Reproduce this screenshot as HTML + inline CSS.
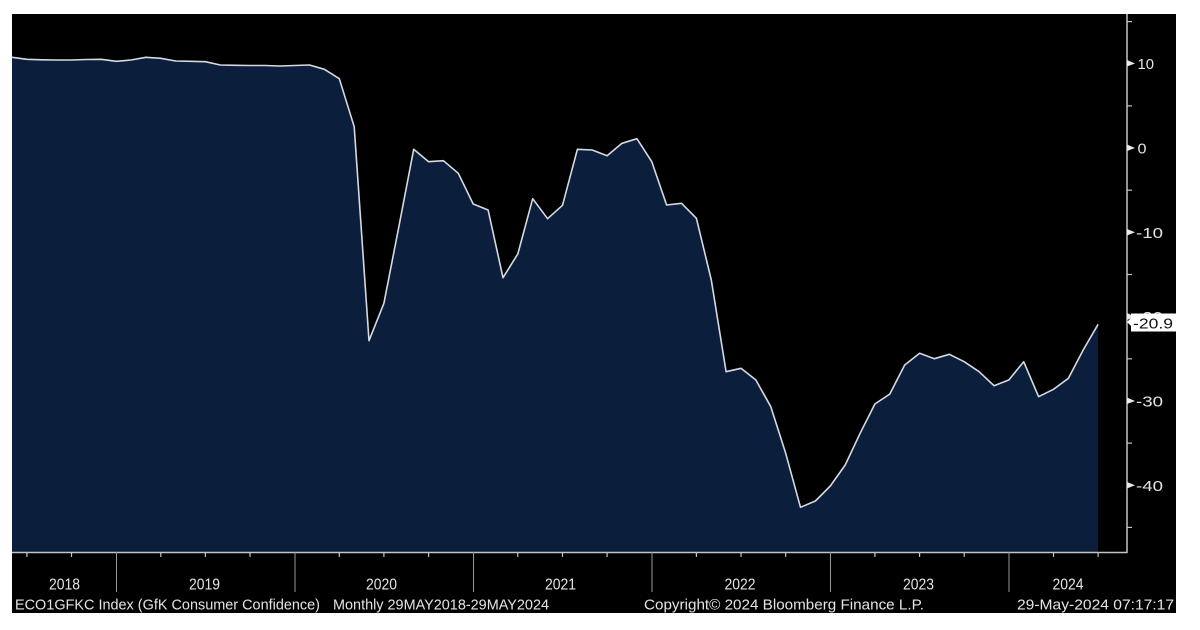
<!DOCTYPE html>
<html><head><meta charset="utf-8">
<style>
html,body{margin:0;padding:0;background:#fff;}
svg{display:block;}
text{font-family:"Liberation Sans","DejaVu Sans",sans-serif;fill:#e4e4e4;}
</style></head>
<body>
<svg width="1200" height="630" viewBox="0 0 1200 630" xmlns="http://www.w3.org/2000/svg">
<rect x="0" y="0" width="1200" height="630" fill="#ffffff"/>
<rect x="12" y="14" width="1164" height="599" fill="#000000"/>
<!-- area fill -->
<polygon fill="#0b1e3b" points="12,57.3 26.9,59.3 41.8,59.8 56.6,60 71.5,60 86.4,59.5 101.3,59.3 116.1,61.3 131,60 145.9,57.3 160.8,58.3 175.6,61 190.5,61.3 205.4,61.7 220.3,65 235.2,65.3 250,65.5 264.9,65.5 279.8,66 294.7,65.5 309.5,65 324.4,69.3 339.3,78.7 354.2,126.7 369,340.7 383.9,303.3 398.8,227 413.7,149.3 428.6,161.7 443.4,160.7 458.3,173.3 473.2,204 488.1,210 503,277.7 517.8,254 532.7,198.7 547.6,218.7 562.5,205.3 577.4,149.3 592.2,150 607.1,155.7 622,143.3 636.9,138.7 651.8,161.7 666.6,205 681.5,203.3 696.4,218.3 711.3,280 726.1,371.7 741,368.3 755.9,380 770.8,406.7 785.7,453.3 800.5,507.3 815.4,501 830.3,486 845.2,465 860.1,433.3 874.9,404 889.8,394 904.7,365 919.6,353.3 934.4,358.7 949.3,354.3 964.2,361.7 979.1,371.7 994,385.7 1008.8,380 1023.7,361.7 1038.6,396.7 1053.5,389.3 1068.4,378.3 1083.2,350 1098.1,324.3 1098.1,552 12,552"/>
<!-- line -->
<polyline fill="none" stroke="#d6dae0" stroke-width="1.6" stroke-linejoin="round" points="12,57.3 26.9,59.3 41.8,59.8 56.6,60 71.5,60 86.4,59.5 101.3,59.3 116.1,61.3 131,60 145.9,57.3 160.8,58.3 175.6,61 190.5,61.3 205.4,61.7 220.3,65 235.2,65.3 250,65.5 264.9,65.5 279.8,66 294.7,65.5 309.5,65 324.4,69.3 339.3,78.7 354.2,126.7 369,340.7 383.9,303.3 398.8,227 413.7,149.3 428.6,161.7 443.4,160.7 458.3,173.3 473.2,204 488.1,210 503,277.7 517.8,254 532.7,198.7 547.6,218.7 562.5,205.3 577.4,149.3 592.2,150 607.1,155.7 622,143.3 636.9,138.7 651.8,161.7 666.6,205 681.5,203.3 696.4,218.3 711.3,280 726.1,371.7 741,368.3 755.9,380 770.8,406.7 785.7,453.3 800.5,507.3 815.4,501 830.3,486 845.2,465 860.1,433.3 874.9,404 889.8,394 904.7,365 919.6,353.3 934.4,358.7 949.3,354.3 964.2,361.7 979.1,371.7 994,385.7 1008.8,380 1023.7,361.7 1038.6,396.7 1053.5,389.3 1068.4,378.3 1083.2,350 1098.1,324.3"/>

<!-- axes -->
<line x1="1127" y1="14" x2="1127" y2="553" stroke="#c4c4c4" stroke-width="1.5"/>
<line x1="12" y1="552.5" x2="1127.5" y2="552.5" stroke="#c4c4c4" stroke-width="1.5"/>

<!-- y minor ticks -->
<g stroke="#c4c4c4" stroke-width="1.2">
<line x1="1127" y1="21.6" x2="1132" y2="21.6"/>
<line x1="1127" y1="105.9" x2="1132" y2="105.9"/>
<line x1="1127" y1="190.2" x2="1132" y2="190.2"/>
<line x1="1127" y1="274.5" x2="1132" y2="274.5"/>
<line x1="1127" y1="358.8" x2="1132" y2="358.8"/>
<line x1="1127" y1="443.1" x2="1132" y2="443.1"/>
<line x1="1127" y1="527.4" x2="1132" y2="527.4"/>
</g>
<!-- y major tick markers -->
<g fill="#e8e8e8">
<polygon points="1127,60 1135,63.5 1127,66.5"/>
<polygon points="1127,144.5 1135,148 1127,151"/>
<polygon points="1127,229 1135,232.3 1127,235.5"/>
<polygon points="1127,313 1135,316.6 1127,320"/>
<polygon points="1127,397.5 1135,401 1127,404"/>
<polygon points="1127,482 1135,485.3 1127,488.5"/>
</g>
<g font-size="15">
<text x="1137.5" y="69" textLength="16.5" lengthAdjust="spacingAndGlyphs">10</text>
<text x="1137.5" y="153.5" textLength="9" lengthAdjust="spacingAndGlyphs">0</text>
<text x="1136" y="237.8" textLength="27" lengthAdjust="spacingAndGlyphs">-10</text>
<text x="1136" y="322" textLength="27" lengthAdjust="spacingAndGlyphs">-20</text>
<text x="1136" y="406.5" textLength="27" lengthAdjust="spacingAndGlyphs">-30</text>
<text x="1136" y="490.8" textLength="27" lengthAdjust="spacingAndGlyphs">-40</text>
</g>

<!-- last value label -->
<polygon fill="#ffffff" points="1131,313.5 1176,313.5 1176,331.5 1131,331.5 1131,326 1127,322 1131,318"/>
<text x="1133" y="328.5" font-size="15" textLength="40" lengthAdjust="spacingAndGlyphs" style="fill:#111">-20.9</text>

<!-- x ticks -->
<g stroke="#c4c4c4" stroke-width="1.2">
<line x1="26.9" y1="552" x2="26.9" y2="557"/>
<line x1="71.5" y1="552" x2="71.5" y2="557"/>
<line x1="160.8" y1="552" x2="160.8" y2="557"/>
<line x1="205.4" y1="552" x2="205.4" y2="557"/>
<line x1="250" y1="552" x2="250" y2="557"/>
<line x1="339.3" y1="552" x2="339.3" y2="557"/>
<line x1="383.9" y1="552" x2="383.9" y2="557"/>
<line x1="428.6" y1="552" x2="428.6" y2="557"/>
<line x1="517.8" y1="552" x2="517.8" y2="557"/>
<line x1="562.5" y1="552" x2="562.5" y2="557"/>
<line x1="607.1" y1="552" x2="607.1" y2="557"/>
<line x1="696.4" y1="552" x2="696.4" y2="557"/>
<line x1="741" y1="552" x2="741" y2="557"/>
<line x1="785.7" y1="552" x2="785.7" y2="557"/>
<line x1="874.9" y1="552" x2="874.9" y2="557"/>
<line x1="919.6" y1="552" x2="919.6" y2="557"/>
<line x1="964.2" y1="552" x2="964.2" y2="557"/>
<line x1="1053.5" y1="552" x2="1053.5" y2="557"/>
<line x1="1098.1" y1="552" x2="1098.1" y2="557"/>
</g>
<g stroke="#9a9a9a" stroke-width="1">
<line x1="116.5" y1="552" x2="116.5" y2="592"/>
<line x1="295" y1="552" x2="295" y2="592"/>
<line x1="473.5" y1="552" x2="473.5" y2="592"/>
<line x1="652" y1="552" x2="652" y2="592"/>
<line x1="830.5" y1="552" x2="830.5" y2="592"/>
<line x1="1009" y1="552" x2="1009" y2="592"/>
</g>
<g font-size="16">
<text x="49" y="589.5" textLength="31" lengthAdjust="spacingAndGlyphs">2018</text>
<text x="189" y="589.5" textLength="31" lengthAdjust="spacingAndGlyphs">2019</text>
<text x="366" y="589.5" textLength="31" lengthAdjust="spacingAndGlyphs">2020</text>
<text x="545" y="589.5" textLength="31" lengthAdjust="spacingAndGlyphs">2021</text>
<text x="724.5" y="589.5" textLength="31" lengthAdjust="spacingAndGlyphs">2022</text>
<text x="903" y="589.5" textLength="31" lengthAdjust="spacingAndGlyphs">2023</text>
<text x="1052.5" y="589.5" textLength="31" lengthAdjust="spacingAndGlyphs">2024</text>
</g>

<!-- footer -->
<g font-size="14.5">
<text x="15" y="609.5" textLength="305" lengthAdjust="spacingAndGlyphs">ECO1GFKC Index (GfK Consumer Confidence)</text>
<text x="333" y="609.5" textLength="216" lengthAdjust="spacingAndGlyphs">Monthly 29MAY2018-29MAY2024</text>
<text x="644" y="609.5" textLength="280" lengthAdjust="spacingAndGlyphs">Copyright© 2024 Bloomberg Finance L.P.</text>
<text x="1017" y="609.5" textLength="157" lengthAdjust="spacingAndGlyphs">29-May-2024 07:17:17</text>
</g>
</svg>
</body></html>
